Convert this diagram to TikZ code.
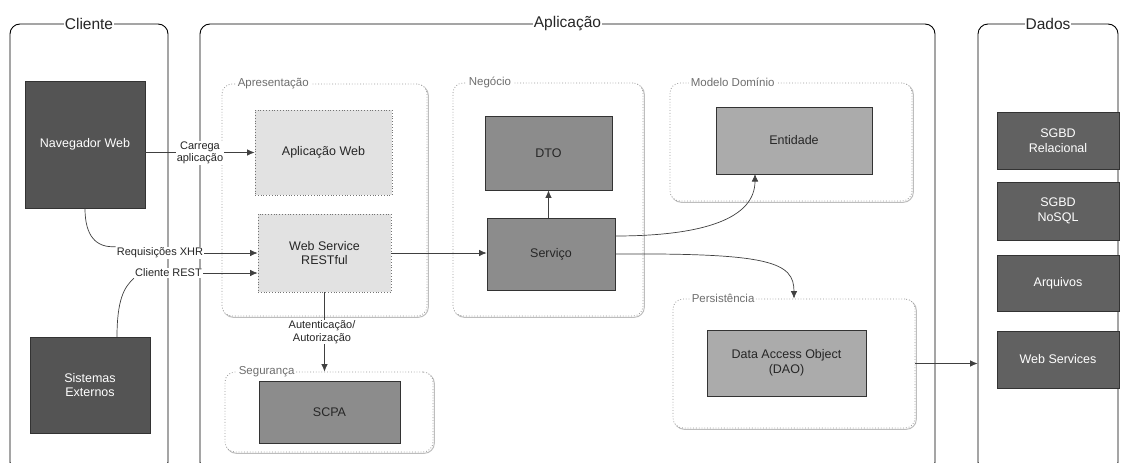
\documentclass[tikz,border=0pt]{standalone}
\usepackage{fontspec}
\setmainfont{Liberation Sans}
\usetikzlibrary{arrows.meta}
\definecolor{boxdark}{HTML}{545454}
\definecolor{boxdata}{HTML}{616161}
\definecolor{boxmid}{HTML}{8C8C8C}
\definecolor{boxlight}{HTML}{ABABAB}
\definecolor{boxpale}{HTML}{E2E2E2}
\definecolor{grpline}{HTML}{9A9A9A}
\definecolor{grpshade}{HTML}{BDBDBD}
\definecolor{lbltext}{HTML}{6E6E6E}
\tikzset{
  sz/.style 2 args={minimum width=#1, minimum height=#2},
  outer/.style={draw=black, line width=0.9pt, rounded corners=10pt, inner sep=0pt},
  ttl/.style={fill=white, inner sep=1pt, font=\fontsize{15.5}{17}\selectfont, text=black!85},
  grp/.style={draw=grpline, dotted, line width=0.8pt, rounded corners=10pt, fill=white, inner sep=0pt,
    preaction={draw=grpshade, solid, line width=1pt, transform canvas={shift={(1.3,1.3)}}}},
  glbl/.style={fill=white, inner sep=2pt, anchor=west, font=\fontsize{11.5}{13}\selectfont, text=lbltext},
  box/.style={draw=black!80, line width=0.8pt, inner sep=2pt, align=center, font=\fontsize{12.5}{14.5}\selectfont},
  dbox/.style={box, fill=boxdark, text=white},
  databox/.style={box, fill=boxdata, text=white},
  mbox/.style={box, fill=boxmid, text=black!85},
  lbox/.style={box, fill=boxlight, text=black!85},
  pbox/.style={box, fill=boxpale, draw=black!55, dotted, text=black!85},
  conn/.style={draw=black!75, line width=0.7pt},
  arr/.style={conn, -{Latex[length=7.5pt,width=6.5pt]}},
  clbl/.style={fill=white, inner sep=1pt, align=center, font=\fontsize{11}{12.5}\selectfont, text=black!85}
}
\begin{document}
\begin{tikzpicture}[x=1pt,y=-1pt]
\clip (0,0) rectangle (1127,463);
\fill[white] (0,0) rectangle (1127,463);

% outer containers
\node[outer, sz={158}{448}] (cli) at (89,248) {};
\node[outer, sz={735}{448}] (app) at (567.5,248) {};
\node[outer, sz={140}{448}] (dad) at (1048,248) {};
\node[ttl] (tcli) at (cli.north) {Cliente};
\node[ttl] (tapp) at (app.north) {Aplicação};
\node[ttl] (tdad) at (dad.north) {Dados};

% groups
\node[grp, sz={205}{232}] (gapr) at (324.5,200) {};
\node[grp, sz={190}{233}] (gneg) at (548,199.5) {};
\node[grp, sz={242}{118}] (gmod) at (791,142) {};
\node[grp, sz={242}{129}] (gper) at (794,363.5) {};
\node[grp, sz={208}{80}] (gseg) at (329,412) {};
\node[glbl] (lapr) at (gapr.north west) [xshift=14pt] {Apresentação};
\node[glbl] (lneg) at (gneg.north west) [xshift=14pt] {Negócio};
\node[glbl] (lmod) at (gmod.north west) [xshift=19pt] {Modelo Domínio};
\node[glbl] (lper) at (gper.north west) [xshift=17pt] {Persistência};
\node[glbl] (lseg) at (gseg.north west) [xshift=12pt] {Segurança};

% boxes
\node[dbox, sz={120}{127}] (nav) at (85,144.5) {Navegador Web};
\node[dbox, sz={120}{96}] (sis) at (90,385) {Sistemas\\Externos};
\node[pbox, sz={137}{85}] (aw) at (323.5,152.5) {Aplicação Web};
\node[pbox, sz={133}{78}] (ws) at (324.5,253) {Web Service\\RESTful};
\node[mbox, sz={141}{62}] (scpa) at (329.5,412) {SCPA};
\node[mbox, sz={127}{74}] (dto) at (548.5,153) {DTO};
\node[mbox, sz={128}{72}] (serv) at (551,254) {Serviço};
\node[lbox, sz={156}{67}] (ent) at (794,140.5) {Entidade};
\node[lbox, sz={159}{66}] (dao) at (786.5,363) {Data Access Object\\(DAO)};
\node[databox, sz={122}{57}] (sg1) at (1058,140.5) {SGBD\\Relacional};
\node[databox, sz={122}{58}] (sg2) at (1058,211) {SGBD\\NoSQL};
\node[databox, sz={122}{56}] (arq) at (1058,283) {Arquivos};
\node[databox, sz={122}{57}] (wsd) at (1058,359.5) {Web Services};

% connectors without labels
\draw[arr] (nav.east |- aw.west) -- (aw.west);
\draw[arr] (ws.east) -- (serv.west |- ws.east);
\draw[arr] (dto.south |- serv.north) -- (dto.south);
\coordinate (s1) at (615,236);
\coordinate (e1) at (755,174);
\draw[arr] (s1) .. controls (705,236) and (755,218) .. (e1);
\draw[arr] (serv.east) .. controls (770,253) and (794,262) .. (gper.north);
\draw[arr] (gper.east) -- (dad.west |- gper.east);
\draw[arr] (ws.south) -- (ws.south |- gseg.north);

% labels on connectors
\node[clbl] (lcar) at (200,153) {Carrega\\aplicação};
\node[clbl] (lauth) at (322,332) {Autenticação/\\Autorização};
\node[clbl] (xhr) at (160,253) {Requisições XHR};
\node[clbl] (rest) at (168.5,273) {Cliente REST};

\draw[conn] (nav.south) .. controls (85,236) and (96,248) .. (xhr.north west);
\draw[arr] (xhr.east) -- (ws.west |- xhr.east);
\coordinate (sisT) at (117,337);
\draw[conn] (sisT) .. controls (117,300) and (124,287) .. (rest.south west);
\draw[arr] (rest.east) -- (ws.west |- rest.east);
\end{tikzpicture}
\end{document}
